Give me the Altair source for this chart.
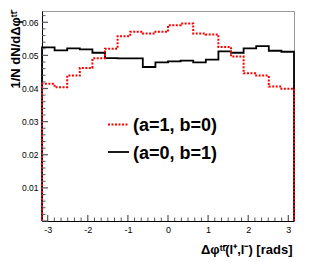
import numpy as np
import pandas as pd
import altair as alt

# bin values (20 bins over [-pi, pi])
black_vals = [0.0524, 0.0515, 0.0521, 0.0518, 0.0508, 0.0492, 0.0491, 0.0491, 0.0465, 0.0479,
              0.0482, 0.0484, 0.0479, 0.0487, 0.0512, 0.0508, 0.0521, 0.0528, 0.0514, 0.0511]
red_vals = [0.0414, 0.0404, 0.0439, 0.0462, 0.0491, 0.0520, 0.0558, 0.0571, 0.0566, 0.0571,
            0.0591, 0.0596, 0.0566, 0.0563, 0.0525, 0.0497, 0.0446, 0.0439, 0.0406, 0.0399]
x_tick_labels = [-3, -2, -1, 0, 1, 2, 3]
y_tick_labels = [0.01, 0.02, 0.03, 0.04, 0.05, 0.06]
legend_labels = ["(a=1, b=0)", "(a=0, b=1)"]

PI = np.pi
edges = np.linspace(-PI, PI, len(black_vals) + 1)


def step_frame(vals):
    xs = [edges[0]]
    ys = [0.0]
    for i, v in enumerate(vals):
        xs.append(edges[i])
        ys.append(v)
    xs.append(edges[-1])
    ys.append(vals[-1])
    xs.append(edges[-1])
    ys.append(0.0)
    return pd.DataFrame({"x": xs, "y": ys, "i": range(len(xs))})


W, H = 252, 210
FONT = "Liberation Sans"
xs = alt.Scale(domain=[-PI, PI], nice=False, zero=False)
ys = alt.Scale(domain=[0, 0.0634], nice=False, zero=False)

x_axis = alt.Axis(values=x_tick_labels, ticks=False, grid=False, domainColor="black",
                  labelExpr="'' + datum.value", labelFontSize=9, labelPadding=4,
                  labelFont=FONT, title="Δφᵗᵗ̄(l⁺,l⁻) [rads]", titleFont=FONT,
                  titleFontSize=13, titleFontWeight="bold", titleAnchor="end",
                  titleAlign="right", titleX=W - 2, titleY=32, titleBaseline="alphabetic")
y_axis = alt.Axis(values=y_tick_labels, ticks=False, grid=False, domainColor="black",
                  format=".2f", labelFontSize=8.5, labelPadding=4, labelFont=FONT,
                  title="1/N dN/dΔφᵗᵗ̄", titleFont=FONT, titleFontSize=13,
                  titleFontWeight="bold", titleAngle=270, titleAlign="right",
                  titleBaseline="middle", titleX=-27, titleY=0)

black = alt.Chart(step_frame(black_vals)).mark_line(
    interpolate="step-after", color="black", strokeWidth=1.8, clip=False
).encode(x=alt.X("x:Q", scale=xs, axis=x_axis), y=alt.Y("y:Q", scale=ys, axis=y_axis),
         order="i:Q")
red = alt.Chart(step_frame(red_vals)).mark_line(
    interpolate="step-after", color="#ff0000", strokeWidth=2, strokeDash=[2, 1.5]
).encode(x=alt.X("x:Q", scale=xs), y=alt.Y("y:Q", scale=ys), order="i:Q")

y_major = pd.DataFrame({"v": [0.0] + y_tick_labels})
y_minor = pd.DataFrame({"v": [round(0.002 * k, 3) for k in range(32) if k % 5 != 0]})
x_major = pd.DataFrame({"v": x_tick_labels})
x_minor = pd.DataFrame({"v": [m + k / 6 for m in range(-3, 3) for k in range(1, 6)]})

ymaj = alt.Chart(y_major).mark_rule(color="#555", strokeWidth=1.2).encode(
    y=alt.Y("v:Q", scale=ys), x=alt.value(0), x2=alt.value(6))
ymin = alt.Chart(y_minor).mark_rule(color="#555", strokeWidth=1).encode(
    y=alt.Y("v:Q", scale=ys), x=alt.value(0), x2=alt.value(3.5))
xmaj = alt.Chart(x_major).mark_rule(color="#555", strokeWidth=1.2).encode(
    x=alt.X("v:Q", scale=xs), y=alt.value(H), y2=alt.value(H - 6))
xmin = alt.Chart(x_minor).mark_rule(color="#555", strokeWidth=1).encode(
    x=alt.X("v:Q", scale=xs), y=alt.value(H), y2=alt.value(H - 3.5))

leg_red_line = alt.Chart(pd.DataFrame({"k": [0]})).mark_rule(
    color="#ff0000", strokeWidth=2, strokeDash=[2, 1.5]).encode(
    x=alt.value(66), x2=alt.value(87), y=alt.value(113.6))
leg_black_line = alt.Chart(pd.DataFrame({"k": [0]})).mark_rule(
    color="black", strokeWidth=1.8).encode(
    x=alt.value(66), x2=alt.value(87), y=alt.value(141))
leg_text1 = alt.Chart(pd.DataFrame({"t": [legend_labels[0]]})).mark_text(
    align="left", baseline="alphabetic", fontSize=18, fontWeight="bold", font=FONT).encode(
    x=alt.value(91), y=alt.value(120.3), text="t:N")
leg_text2 = alt.Chart(pd.DataFrame({"t": [legend_labels[1]]})).mark_text(
    align="left", baseline="alphabetic", fontSize=18, fontWeight="bold", font=FONT).encode(
    x=alt.value(91), y=alt.value(148.3), text="t:N")

chart = alt.layer(black, red, ymaj, ymin, xmaj, xmin, leg_red_line, leg_black_line,
                  leg_text1, leg_text2).properties(
    width=W, height=H,
    autosize=alt.AutoSizeParams(type="none"),
    padding={"left": 34, "top": 3, "right": 13, "bottom": 36},
).configure_view(stroke="#999", strokeWidth=1)

chart.save("out.html", embed_options={"renderer": "svg", "actions": False})
